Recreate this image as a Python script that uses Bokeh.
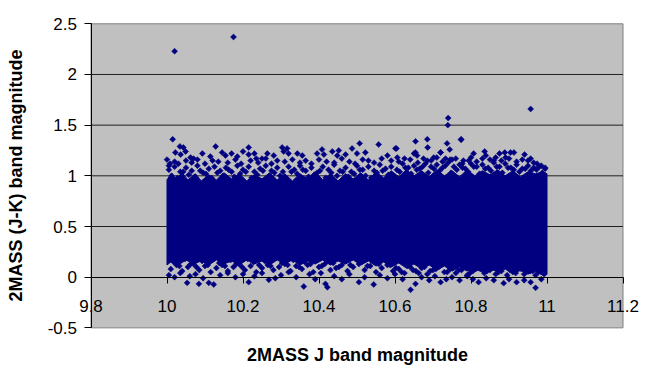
import math
from bokeh.plotting import figure
from bokeh.models import Range1d, FixedTicker, LinearAxis
from bokeh.embed import file_html
from bokeh.resources import INLINE

# ---- axis ticks ----
x_ticks = [9.8, 10.0, 10.2, 10.4, 10.6, 10.8, 11.0, 11.2]
x_tick_labels = ["9.8", "10", "10.2", "10.4", "10.6", "10.8", "11", "11.2"]
y_ticks = [-0.5, 0.0, 0.5, 1.0, 1.5, 2.0, 2.5]
y_tick_labels = ["-0.5", "0", "0.5", "1", "1.5", "2", "2.5"]
y_grid = [0.5, 1.0, 1.5, 2.0]

# ---- envelope of the fully dense core of the cloud ----
core_top_x = [10.000, 10.010, 10.025, 10.040, 10.055, 10.075, 10.09, 10.11, 10.13, 10.15, 10.17, 10.19,
              10.21, 10.23, 10.25, 10.27, 10.29, 10.31, 10.33, 10.35, 10.37, 10.39, 10.41, 10.43, 10.45,
              10.47, 10.49, 10.51, 10.53, 10.55, 10.57, 10.59, 10.61, 10.63, 10.65, 10.67, 10.69, 10.71,
              10.73, 10.75, 10.77, 10.79, 10.81, 10.83, 10.85, 10.87, 10.89, 10.91, 10.93, 10.95, 10.97,
              10.99, 11.00]
core_top_y = [0.96, 1.02, 0.97, 1.03, 0.96, 1.02, 0.95, 1.01, 0.96, 1.03, 0.97, 1.02,
              0.95, 1.01, 0.97, 1.03, 0.96, 1.02, 0.95, 1.02, 0.97, 1.04, 0.96, 1.02, 0.95,
              1.02, 0.97, 1.03, 0.96, 1.04, 0.98, 1.05, 0.99, 1.06, 1.00, 1.05, 0.99, 1.06,
              1.00, 1.05, 0.99, 1.06, 1.00, 1.05, 1.01, 1.06, 1.00, 1.05, 0.99, 1.04, 1.02,
              1.04, 1.02]
core_bot_x = [11.00, 10.99, 10.97, 10.95, 10.93, 10.91, 10.89, 10.87, 10.85, 10.83, 10.81, 10.79,
              10.77, 10.75, 10.73, 10.71, 10.69, 10.67, 10.65, 10.63, 10.61, 10.59, 10.57, 10.55,
              10.53, 10.51, 10.49, 10.47, 10.45, 10.43, 10.41, 10.39, 10.37, 10.35, 10.33, 10.31,
              10.29, 10.27, 10.25, 10.23, 10.21, 10.19, 10.17, 10.15, 10.13, 10.11, 10.09, 10.07,
              10.05, 10.03, 10.01, 10.00]
core_bot_y = [0.03, 0.02, 0.06, 0.03, 0.07, 0.04, 0.08, 0.05, 0.09, 0.05, 0.08, 0.06,
              0.10, 0.06, 0.11, 0.07, 0.12, 0.08, 0.13, 0.09, 0.14, 0.10, 0.15, 0.11,
              0.16, 0.12, 0.17, 0.13, 0.16, 0.12, 0.17, 0.13, 0.16, 0.12, 0.17, 0.13,
              0.17, 0.12, 0.16, 0.13, 0.17, 0.12, 0.16, 0.13, 0.17, 0.12, 0.16, 0.13,
              0.17, 0.12, 0.15, 0.12]

# ---- stars in the ragged bands just above the dense core ----
band_hi2_x = [10.0125, 10.0275, 10.0425, 10.0575, 10.0725, 10.0875, 10.1025, 10.1175, 10.1325, 10.1475,
              10.1625, 10.1775, 10.1925, 10.2075, 10.2225, 10.2375, 10.2525, 10.2675, 10.2825, 10.2975,
              10.3125, 10.3275, 10.3425, 10.3575, 10.3725, 10.3875, 10.4025, 10.4175, 10.4325, 10.4475,
              10.4625, 10.4775, 10.4925, 10.5075, 10.5225, 10.5375, 10.5525, 10.5675, 10.5825, 10.5975,
              10.6125, 10.6275, 10.6425, 10.6575, 10.6725, 10.6875, 10.7025, 10.7175, 10.7325, 10.7475,
              10.7625, 10.7775, 10.7925, 10.8075, 10.8225, 10.8375, 10.8525, 10.8675, 10.8825, 10.8975,
              10.9125, 10.9275, 10.9425, 10.9575, 10.9725, 10.9875]
band_hi2_y = [1.00, 0.98, 1.04, 1.01, 0.99, 1.05, 1.02, 0.98, 1.03, 1.00,
              1.06, 0.99, 1.02, 1.04, 0.98, 1.01, 1.05, 0.99, 1.03, 1.00,
              0.98, 1.04, 1.02, 1.06, 0.99, 1.01, 1.05, 0.98, 1.03, 1.00,
              1.04, 0.99, 1.02, 1.06, 1.00, 0.98, 1.03, 1.05, 1.01, 0.99,
              1.04, 1.08, 1.02, 1.06, 1.09, 1.03, 1.07, 1.05, 1.10, 1.03,
              1.06, 1.08, 1.04, 1.09, 1.02, 1.07, 1.05, 1.09, 1.03, 1.08,
              1.06, 1.04, 1.07, 1.05, 1.06, 1.03]

band_hi_x = [10.005, 10.02, 10.035, 10.05, 10.065, 10.08, 10.095, 10.11, 10.125, 10.14, 10.155, 10.17,
             10.185, 10.2, 10.215, 10.23, 10.245, 10.26, 10.275, 10.29, 10.305, 10.32, 10.335, 10.35,
             10.365, 10.38, 10.395, 10.41, 10.425, 10.44, 10.455, 10.47, 10.485, 10.5, 10.515, 10.53,
             10.545, 10.56, 10.575, 10.59, 10.605, 10.62, 10.635, 10.65, 10.665, 10.68, 10.695, 10.71,
             10.725, 10.74, 10.755, 10.77, 10.785, 10.8, 10.815, 10.83, 10.845, 10.86, 10.875, 10.89,
             10.905, 10.92, 10.935, 10.95, 10.965, 10.98, 10.995]
band_hi_y = [1.06, 1.09, 1.04, 1.08, 1.05, 1.10, 1.03, 1.07, 1.09, 1.05, 1.08, 1.04,
             1.10, 1.06, 1.09, 1.04, 1.07, 1.10, 1.05, 1.08, 1.04, 1.09, 1.06, 1.10,
             1.05, 1.08, 1.03, 1.09, 1.06, 1.11, 1.05, 1.08, 1.04, 1.10, 1.06, 1.09,
             1.05, 1.11, 1.07, 1.09, 1.06, 1.12, 1.08, 1.10, 1.07, 1.12, 1.09, 1.11,
             1.08, 1.13, 1.09, 1.11, 1.07, 1.12, 1.09, 1.11, 1.08, 1.13, 1.09, 1.12,
             1.08, 1.11, 1.07, 1.10, 1.08, 1.09, 1.07]

mid_x = [10.005, 10.02, 10.03, 10.05, 10.065, 10.08, 10.10, 10.12, 10.135, 10.16, 10.18, 10.195,
         10.22, 10.24, 10.26, 10.275, 10.29, 10.31, 10.33, 10.35, 10.365, 10.38, 10.40, 10.42,
         10.44, 10.46, 10.48, 10.495, 10.515, 10.53, 10.545, 10.565, 10.59, 10.61, 10.625, 10.64,
         10.66, 10.675, 10.695, 10.71, 10.725, 10.745, 10.76, 10.78, 10.80, 10.815, 10.83, 10.85,
         10.865, 10.88, 10.90, 10.92, 10.935, 10.95, 10.965, 10.985, 10.995]
mid_y = [1.10, 1.14, 1.12, 1.15, 1.13, 1.16, 1.12, 1.15, 1.14, 1.13, 1.16, 1.12,
         1.15, 1.13, 1.17, 1.12, 1.15, 1.14, 1.16, 1.13, 1.15, 1.12, 1.16, 1.14,
         1.13, 1.17, 1.14, 1.12, 1.16, 1.15, 1.13, 1.17, 1.15, 1.14, 1.17, 1.16,
         1.13, 1.17, 1.15, 1.18, 1.14, 1.16, 1.17, 1.15, 1.18, 1.14, 1.17, 1.16,
         1.18, 1.15, 1.17, 1.14, 1.16, 1.15, 1.13, 1.10, 1.08]

# ---- individual stars on the upper fringe ----
upper_x = [10.015, 10.034, 10.043, 10.128, 10.215, 10.022, 10.036, 10.049, 10.062, 10.070, 10.093, 10.114,
           10.145, 10.154, 10.170, 10.185, 10.200, 10.215, 10.230, 10.235, 10.000, 10.008, 10.303, 10.316,
           10.307, 10.320, 10.343, 10.356, 10.395, 10.408, 10.413, 10.435, 10.452, 10.448, 10.470, 10.487,
           10.264, 10.281, 10.250, 10.507, 10.557, 10.654, 10.685, 10.686, 10.604, 10.522, 10.500, 10.580,
           10.606, 10.650, 10.658, 10.720, 10.737, 10.733, 10.702, 10.685, 10.774, 10.744, 10.807, 10.836,
           10.839, 10.875, 10.889, 10.904, 10.913, 10.941, 10.891, 10.957, 10.974, 10.777, 10.794, 10.750,
           10.860, 10.601, 10.720, 10.654]
upper_y = [1.36, 1.29, 1.28, 1.29, 1.28, 1.23, 1.21, 1.24, 1.18, 1.17, 1.22, 1.19,
           1.23, 1.20, 1.22, 1.19, 1.24, 1.21, 1.22, 1.17, 1.16, 1.12, 1.28, 1.27,
           1.24, 1.22, 1.22, 1.20, 1.22, 1.26, 1.21, 1.24, 1.25, 1.20, 1.21, 1.27,
           1.22, 1.20, 1.17, 1.32, 1.31, 1.34, 1.36, 1.28, 1.27, 1.23, 1.22, 1.20,
           1.18, 1.22, 1.20, 1.23, 1.32, 1.17, 1.18, 1.15, 1.36, 1.26, 1.22, 1.24,
           1.20, 1.22, 1.23, 1.23, 1.23, 1.21, 1.18, 1.17, 1.12, 1.12, 1.15, 1.16,
           1.15, 1.27, 1.23, 1.23]

# ---- stars in the ragged bands just below the dense core ----
band_lo2_x = [10.0175, 10.0325, 10.0475, 10.0625, 10.0775, 10.0925, 10.1075, 10.1225, 10.1375, 10.1525,
              10.1675, 10.1825, 10.1975, 10.2125, 10.2275, 10.2425, 10.2575, 10.2725, 10.2875, 10.3025,
              10.3175, 10.3325, 10.3475, 10.3625, 10.3775, 10.3925, 10.4075, 10.4225, 10.4375, 10.4525,
              10.4675, 10.4825, 10.4975, 10.5125, 10.5275, 10.5425, 10.5575, 10.5725, 10.5875, 10.6025,
              10.6175, 10.6325, 10.6475, 10.6625, 10.6775, 10.6925, 10.7075, 10.7225, 10.7375, 10.7525,
              10.7675, 10.7825, 10.7975, 10.8125, 10.8275, 10.8425, 10.8575, 10.8725, 10.8875, 10.9025,
              10.9175, 10.9325, 10.9475, 10.9625, 10.9775, 10.9925]
band_lo2_y = [0.15, 0.11, 0.18, 0.13, 0.10, 0.16, 0.12, 0.19, 0.14, 0.11,
              0.17, 0.13, 0.10, 0.18, 0.15, 0.12, 0.16, 0.11, 0.19, 0.14,
              0.12, 0.17, 0.10, 0.15, 0.13, 0.18, 0.11, 0.16, 0.14, 0.10,
              0.17, 0.12, 0.19, 0.15, 0.11, 0.16, 0.13, 0.18, 0.12, 0.09,
              0.05, 0.11, 0.07, 0.04, 0.10, 0.06, 0.08, 0.12, 0.05, 0.09,
              0.07, 0.11, 0.04, 0.08, 0.10, 0.06, 0.09, 0.05, 0.11, 0.07,
              0.04, 0.08, 0.10, 0.06, 0.05, 0.03]

band_lo_x = [10.01, 10.025, 10.04, 10.055, 10.07, 10.085, 10.1, 10.115, 10.13, 10.145,
             10.16, 10.175, 10.19, 10.205, 10.22, 10.235, 10.25, 10.265, 10.28, 10.295,
             10.31, 10.325, 10.34, 10.355, 10.37, 10.385, 10.4, 10.415, 10.43, 10.445,
             10.46, 10.475, 10.49, 10.505, 10.52, 10.535, 10.55, 10.565, 10.58, 10.595,
             10.61, 10.625, 10.64, 10.655, 10.67, 10.685, 10.7, 10.715, 10.73, 10.745,
             10.76, 10.775, 10.79, 10.805, 10.82, 10.835, 10.85, 10.865, 10.88, 10.895,
             10.91, 10.925, 10.94, 10.955, 10.97, 10.985]
band_lo_y = [0.08, 0.12, 0.06, 0.10, 0.13, 0.07, 0.11, 0.05, 0.09, 0.12,
             0.06, 0.10, 0.13, 0.07, 0.11, 0.05, 0.09, 0.12, 0.07, 0.10,
             0.13, 0.06, 0.11, 0.08, 0.12, 0.05, 0.10, 0.13, 0.07, 0.09,
             0.12, 0.06, 0.10, 0.13, 0.07, 0.11, 0.05, 0.09, 0.12, 0.06,
             0.08, 0.04, 0.10, 0.06, 0.09, 0.03, 0.07, 0.10, 0.05, 0.08,
             0.04, 0.07, 0.02, 0.06, 0.09, 0.04, 0.07, 0.03, 0.06, 0.02,
             0.05, 0.08, 0.03, 0.06, 0.02, 0.05]

# ---- individual stars on the lower fringe ----
lower_x = [10.053, 10.084, 10.110, 10.123, 10.215, 10.268, 10.360, 10.417, 10.422, 10.505, 10.544, 10.641,
           10.654, 10.720, 10.820, 10.886, 10.920, 10.957, 10.970, 10.005, 10.02, 10.035, 10.06, 10.075,
           10.095, 10.14, 10.16, 10.18, 10.20, 10.23, 10.25, 10.285, 10.30, 10.32, 10.34, 10.375,
           10.39, 10.405, 10.44, 10.46, 10.48, 10.52, 10.56, 10.58, 10.60, 10.62, 10.67, 10.69,
           10.705, 10.735, 10.75, 10.77, 10.79, 10.805, 10.84, 10.86, 10.90, 10.94, 10.985]
lower_y = [-0.056, -0.066, -0.056, -0.072, -0.049, -0.026, -0.092, -0.066, -0.099, -0.049, -0.072, -0.125,
           -0.066, -0.049, -0.049, -0.059, -0.049, -0.049, -0.105, 0.02, 0.0, 0.04, 0.01, 0.03,
           -0.01, 0.02, 0.04, 0.0, 0.03, 0.01, 0.04, -0.01, 0.02, 0.05, 0.0, 0.03,
           -0.02, 0.04, 0.01, -0.02, 0.03, 0.0, 0.02, -0.01, 0.03, -0.02, 0.0, -0.03,
           0.01, -0.02, 0.0, -0.03, 0.01, -0.02, -0.01, -0.03, -0.02, -0.03, -0.02]

# ---- isolated outliers ----
outlier_x = [10.020, 10.175, 10.957, 10.740, 10.739, 10.774]
outlier_y = [2.23, 2.37, 1.66, 1.57, 1.50, 1.356]

NAVY = "#000080"
FONT = "Liberation Sans"

# Layout: the frame fills the whole canvas; the grey plot area is placed in it
W, H = 650, 382
PX_LEFT, PX_TOP = 90.5, 23.3          # pixel position of the grey area's corner
PX_PER_X, PX_PER_Y = 380.0, 101.35    # pixels per data unit
x0 = x_ticks[0] - PX_LEFT / PX_PER_X
x1 = x_ticks[0] + (W - PX_LEFT) / PX_PER_X
y1 = y_ticks[-1] + PX_TOP / PX_PER_Y
y0 = y_ticks[-1] - (H - PX_TOP) / PX_PER_Y

p = figure(width=W, height=H, output_backend="svg", toolbar_location=None,
           x_range=Range1d(x0, x1), y_range=Range1d(y0, y1),
           min_border=0, x_axis_location=None, y_axis_location=None)
p.background_fill_color = "white"
p.border_fill_color = "white"
p.outline_line_color = None
p.grid.visible = False

# grey plot area, its border and the horizontal grid lines
p.quad(left=x_ticks[0], right=x_ticks[-1], bottom=y_ticks[0], top=y_ticks[-1],
       fill_color="#C0C0C0", line_color="#808080", line_width=1)
p.segment(x0=[x_ticks[0]] * len(y_grid), x1=[x_ticks[-1]] * len(y_grid), y0=y_grid, y1=y_grid,
          line_color="#202020", line_width=1)

# vertical axis along the left side of the grey area
yax = LinearAxis(fixed_location=x_ticks[0], ticker=FixedTicker(ticks=y_ticks),
                 bounds=(y_ticks[0], y_ticks[-1]))
yax.major_label_overrides = {t: l for t, l in zip(y_ticks, y_tick_labels)}
yax.major_tick_in = 0
yax.major_tick_out = 7
yax.minor_tick_line_color = None
yax.major_tick_line_color = "black"
yax.axis_line_color = "black"
yax.major_label_text_font = FONT
yax.major_label_text_font_size = "17px"
yax.major_label_text_color = "black"
yax.major_label_standoff = 7
yax.axis_label = "2MASS (J-K) band magnitude"
yax.axis_label_text_font = FONT
yax.axis_label_text_font_size = "18px"
yax.axis_label_text_font_style = "bold"
yax.axis_label_text_color = "black"
yax.axis_label_standoff = 19
p.add_layout(yax, "left")

# horizontal axis crossing at y = 0
xax = LinearAxis(fixed_location=0, ticker=FixedTicker(ticks=x_ticks),
                 bounds=(x_ticks[0], x_ticks[-1]))
xax.major_label_overrides = {t: l for t, l in zip(x_ticks, x_tick_labels)}
xax.major_tick_in = 0
xax.major_tick_out = 6
xax.minor_tick_line_color = None
xax.major_tick_line_color = "black"
xax.axis_line_color = "black"
xax.major_label_text_font = FONT
xax.major_label_text_font_size = "17px"
xax.major_label_text_color = "black"
xax.major_label_standoff = 17
xax.axis_label = "2MASS J band magnitude"
xax.axis_label_text_font = FONT
xax.axis_label_text_font_size = "18px"
xax.axis_label_text_font_style = "bold"
xax.axis_label_text_color = "black"
xax.axis_label_standoff = 29
p.add_layout(xax, "below")

# data: dense core + individual stars
p.patch(core_top_x + core_bot_x, core_top_y + core_bot_y, fill_color=NAVY, line_color=NAVY,
        line_width=1)
all_x = band_hi2_x + band_hi_x + mid_x + upper_x + band_lo2_x + band_lo_x + lower_x + outlier_x
all_y = band_hi2_y + band_hi_y + mid_y + upper_y + band_lo2_y + band_lo_y + lower_y + outlier_y
p.scatter(all_x, all_y, marker="square", angle=math.pi / 4, size=4.2,
          fill_color=NAVY, line_color=NAVY, line_width=0.5)

open("out.html", "w").write(file_html(p, INLINE))
